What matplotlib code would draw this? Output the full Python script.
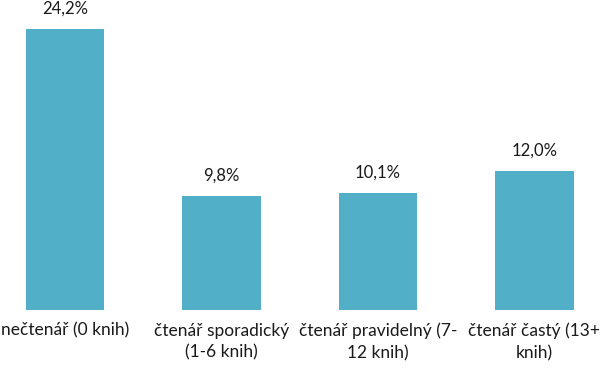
import matplotlib
matplotlib.use("Agg")
import matplotlib.pyplot as plt

categories = ["nečtenář (0 knih)", "čtenář sporadický\n(1-6 knih)",
              "čtenář pravidelný (7-\n12 knih)", "čtenář častý (13+\nknih)"]
values = [24.2, 9.8, 10.1, 12.0]
value_labels = ["24,2%", "9,8%", "10,1%", "12,0%"]

plt.rcParams['font.family'] = ['Lato', 'DejaVu Sans']

fig = plt.figure(figsize=(6.01, 3.72), dpi=100)
ax = fig.add_axes([0, 0, 1, 1])
x = list(range(len(values)))
ax.bar(x, values, width=0.5, color="#52AFC8")
for xi, v, lab in zip(x, values, value_labels):
    ax.annotate(lab, (xi, v), xytext=(0, 9), textcoords="offset points",
                ha="center", va="bottom", fontsize=12, color="#1a1a1a")
ax.set_xlim(-0.415, 3.425)
ax.set_ylim(-5.34, 26.72)
ax.set_xticks(x)
ax.set_xticklabels(categories, fontsize=12.5, color="#1a1a1a", linespacing=1.45)
ax.tick_params(axis="x", length=0, pad=-35.5)
ax.set_yticks([])
for s in ax.spines.values():
    s.set_visible(False)
fig.savefig("out.png", dpi=100)
